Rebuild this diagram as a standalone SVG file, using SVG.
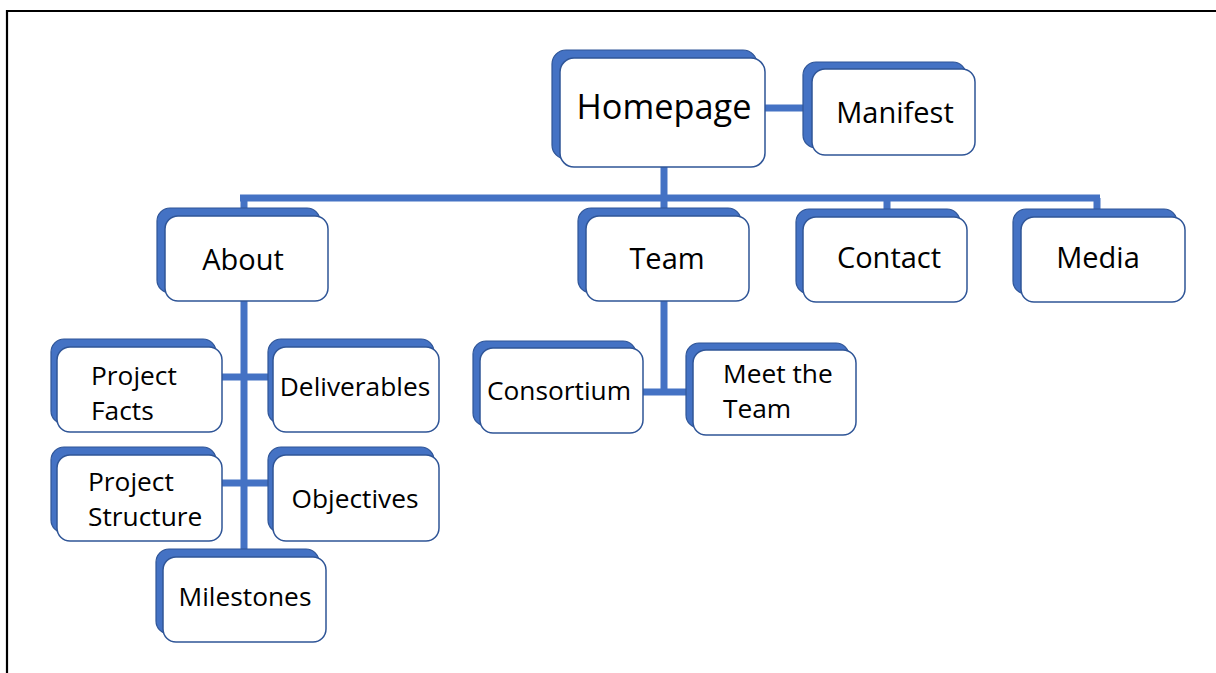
<svg xmlns="http://www.w3.org/2000/svg" width="1216" height="673" viewBox="0 0 1216 673">
<style>
.sh{fill:#4472C4;stroke:#2F5597;stroke-width:1.2}
.fr{fill:#fff;stroke:#2F5597;stroke-width:1.5}
.c{stroke:#4472C4;stroke-width:7;fill:none}
text{font-family:"Open Sans","Noto Sans","Liberation Sans",sans-serif;fill:#000}
.l1{font-size:29px;text-anchor:middle}
.l2{font-size:26.3px}
.m{text-anchor:middle}
</style>
<rect x="0" y="0" width="1216" height="673" fill="#fff"/>
<path d="M7 673 V11 H1216" fill="none" stroke="#000" stroke-width="2.2"/>
<g id="connectors">
<path class="c" d="M765 108 H805"/>
<path class="c" d="M664 167 V198"/>
<path class="c" d="M240 198 H1100"/>
<path class="c" d="M244 198 V210 M664 198 V210 M887 198 V211 M1097 198 V211"/>
<path class="c" d="M244 301 V551"/>
<path class="c" d="M222 377 H270 M222 483 H270"/>
<path class="c" d="M664 301 V392 M643 392 H688"/>
</g>
<g id="homepage"><rect class="sh" x="552" y="50" width="205" height="109" rx="14"/><rect class="fr" x="560" y="58" width="205" height="109" rx="14"/><text x="664" y="119" font-size="34.3" text-anchor="middle">Homepage</text></g>
<g id="manifest"><rect class="sh" x="803" y="62" width="163" height="86" rx="13"/><rect class="fr" x="812" y="69" width="163" height="86" rx="13"/><text class="l1" x="895" y="123">Manifest</text></g>
<g id="about"><rect class="sh" x="157" y="208" width="163" height="85" rx="13"/><rect class="fr" x="165" y="216" width="163" height="85" rx="13"/><text class="l1" x="243" y="270">About</text></g>
<g id="team"><rect class="sh" x="578" y="208" width="163" height="85" rx="13"/><rect class="fr" x="586" y="216" width="163" height="85" rx="13"/><text class="l1" x="667" y="269" font-size="28">Team</text></g>
<g id="contact"><rect class="sh" x="796" y="209" width="164" height="85" rx="13"/><rect class="fr" x="803" y="217" width="164" height="85" rx="13"/><text class="l1" x="889" y="268">Contact</text></g>
<g id="media"><rect class="sh" x="1013" y="209" width="164" height="85" rx="13"/><rect class="fr" x="1021" y="217" width="164" height="85" rx="13"/><text class="l1" x="1098" y="268">Media</text></g>
<g id="project-facts"><rect class="sh" x="51" y="339" width="165" height="85" rx="13"/><rect class="fr" x="57" y="347" width="165" height="85" rx="13"/><text class="l2" x="91" y="385">Project</text><text class="l2" x="91" y="420">Facts</text></g>
<g id="deliverables"><rect class="sh" x="268" y="339" width="166" height="85" rx="13"/><rect class="fr" x="273" y="347" width="166" height="85" rx="13"/><text class="l2 m" x="355" y="396">Deliverables</text></g>
<g id="project-structure"><rect class="sh" x="51" y="447" width="165" height="86" rx="13"/><rect class="fr" x="57" y="455" width="165" height="86" rx="13"/><text class="l2" x="88" y="491">Project</text><text class="l2" x="88" y="526">Structure</text></g>
<g id="objectives"><rect class="sh" x="268" y="447" width="166" height="86" rx="13"/><rect class="fr" x="273" y="455" width="166" height="86" rx="13"/><text class="l2 m" x="355" y="508">Objectives</text></g>
<g id="milestones"><rect class="sh" x="156" y="549" width="163" height="85" rx="13"/><rect class="fr" x="163" y="557" width="163" height="85" rx="13"/><text class="l2 m" x="245" y="606">Milestones</text></g>
<g id="consortium"><rect class="sh" x="473" y="341" width="163" height="85" rx="13"/><rect class="fr" x="480" y="348" width="163" height="85" rx="13"/><text class="l2 m" x="559" y="400">Consortium</text></g>
<g id="meet-the-team"><rect class="sh" x="686" y="343" width="163" height="85" rx="13"/><rect class="fr" x="693" y="350" width="163" height="85" rx="13"/><text class="l2" x="723" y="383">Meet the</text><text class="l2" x="723" y="418">Team</text></g>
</svg>
